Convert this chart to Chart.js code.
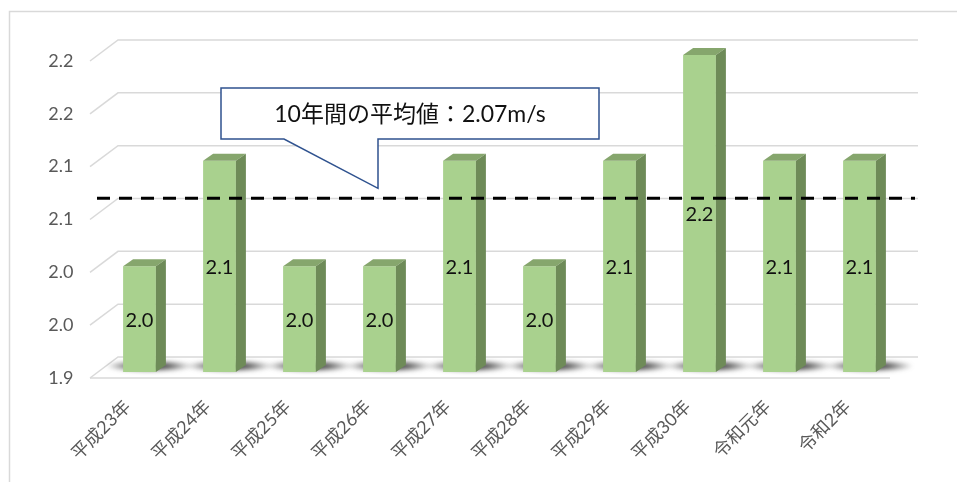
<!DOCTYPE html>
<html>
<head>
<meta charset="utf-8">
<script src="https://cdn.jsdelivr.net/npm/chart.js@4.4.1/dist/chart.umd.min.js"></script>
<style>
  html, body { margin: 0; padding: 0; background: #fff; }
  .chart-container { position: relative; width: 957px; height: 482px; }
</style>
</head>
<body>
<div class="chart-container"><canvas id="chart"></canvas></div>
<script>
const years = ['平成23年', '平成24年', '平成25年', '平成26年', '平成27年', '平成28年', '平成29年', '平成30年', '令和元年', '令和2年']
const windSpeed = [2.0, 2.1, 2.0, 2.0, 2.1, 2.0, 2.1, 2.2, 2.1, 2.1]
const yTickValues = [1.9, 1.95, 2.0, 2.05, 2.1, 2.15, 2.2]
const yTickLabels = ['1.9', '2.0', '2.0', '2.1', '2.1', '2.2', '2.2']
const average = windSpeed.reduce((a, b) => a + b, 0) / windSpeed.length

// fake 3D: offsets of the front / back walls and the bar depth, relative to the bar faces
const FRONT = { dx: -9.5, dy: 6 }
const BACK = { dx: 18.5, dy: -15 }
const DEPTH = { dx: 10, dy: -7 }

const LATIN = 'Lato, "Noto Sans CJK JP", sans-serif'

const frame = {
  id: 'frame',
  beforeDraw(chart) {
    const { ctx, width, height } = chart
    ctx.save()
    ctx.fillStyle = '#fff'
    ctx.fillRect(0, 0, width, height)
    ctx.strokeStyle = '#d9d9d9'
    ctx.lineWidth = 1.5
    ctx.strokeRect(9.5, 11.5, width + 20, height + 20)
    ctx.restore()
  },
}

const grid3d = {
  id: 'grid3d',
  beforeDatasetsDraw(chart) {
    const { ctx, chartArea: { left, right }, scales: { y } } = chart
    ctx.save()
    ctx.strokeStyle = '#d9d9d9'
    ctx.lineWidth = 1.5
    yTickValues.forEach((v) => {
      const yy = y.getPixelForValue(v)
      ctx.beginPath()
      ctx.moveTo(left + FRONT.dx, yy + FRONT.dy)
      ctx.lineTo(left + BACK.dx, yy + BACK.dy)
      ctx.lineTo(right + BACK.dx, yy + BACK.dy)
      ctx.stroke()
    })
    const floor = y.getPixelForValue(yTickValues[0])
    ctx.beginPath()
    ctx.moveTo(left + FRONT.dx, floor + FRONT.dy)
    ctx.lineTo(right + FRONT.dx, floor + FRONT.dy)
    ctx.stroke()

    // soft shadows on the floor
    ctx.filter = 'blur(2px)'
    chart.getDatasetMeta(0).data.forEach((bar) => {
      const g = ctx.createRadialGradient(0, 0, 0, 0, 0, 1)
      g.addColorStop(0, 'rgba(20,20,20,1)')
      g.addColorStop(0.5, 'rgba(40,40,40,0.7)')
      g.addColorStop(1, 'rgba(60,60,60,0)')
      ctx.save()
      ctx.translate(bar.x + 10, floor - 6)
      ctx.scale(44, 6)
      ctx.fillStyle = g
      ctx.beginPath()
      ctx.arc(0, 0, 1, 0, Math.PI * 2)
      ctx.fill()
      ctx.restore()
    })
    ctx.restore()
  },
}

const bars3d = {
  id: 'bars3d',
  afterDatasetsDraw(chart) {
    const { ctx, chartArea: { left, right }, scales: { y } } = chart
    const floor = y.getPixelForValue(yTickValues[0])
    ctx.save()
    chart.getDatasetMeta(0).data.forEach((bar) => {
      const x0 = bar.x - bar.width / 2
      const x1 = bar.x + bar.width / 2
      // top
      ctx.fillStyle = '#86a66d'
      ctx.beginPath()
      ctx.moveTo(x0, bar.y)
      ctx.lineTo(x0 + DEPTH.dx, bar.y + DEPTH.dy)
      ctx.lineTo(x1 + DEPTH.dx, bar.y + DEPTH.dy)
      ctx.lineTo(x1, bar.y)
      ctx.closePath()
      ctx.fill()
      // side
      ctx.fillStyle = '#6e8b58'
      ctx.beginPath()
      ctx.moveTo(x1, bar.y)
      ctx.lineTo(x1 + DEPTH.dx, bar.y + DEPTH.dy)
      ctx.lineTo(x1 + DEPTH.dx, floor + DEPTH.dy)
      ctx.lineTo(x1, floor)
      ctx.closePath()
      ctx.fill()
    })

    // average line
    const ya = y.getPixelForValue(average) + FRONT.dy
    ctx.strokeStyle = '#000'
    ctx.lineWidth = 3
    ctx.setLineDash([13, 9])
    ctx.beginPath()
    ctx.moveTo(left - 2.5, ya)
    ctx.lineTo(right + 15.5, ya)
    ctx.stroke()
    ctx.setLineDash([])

    // value labels
    ctx.fillStyle = '#111'
    ctx.font = '20px ' + LATIN
    ctx.textAlign = 'center'
    ctx.textBaseline = 'middle'
    chart.getDatasetMeta(0).data.forEach((bar, i) => {
      ctx.fillText(windSpeed[i].toFixed(1), bar.x, (bar.y + floor) / 2 + 1)
    })
    ctx.restore()
  },
}

const callout = {
  id: 'callout',
  afterDraw(chart) {
    const { ctx, scales: { x, y } } = chart
    const tipX = x.getPixelForValue(3) - 1.5
    const tipY = y.getPixelForValue(average) + FRONT.dy - 10
    const box = { l: 221, t: 88, r: 599, b: 139 }
    ctx.save()
    ctx.fillStyle = '#fff'
    ctx.strokeStyle = '#2f528f'
    ctx.lineWidth = 1.5
    ctx.beginPath()
    ctx.moveTo(box.l, box.t)
    ctx.lineTo(box.r, box.t)
    ctx.lineTo(box.r, box.b)
    ctx.lineTo(tipX, box.b)
    ctx.lineTo(tipX, tipY)
    ctx.lineTo(284, box.b)
    ctx.lineTo(box.l, box.b)
    ctx.closePath()
    ctx.fill()
    ctx.stroke()
    ctx.fillStyle = '#111'
    ctx.font = '23px ' + LATIN
    ctx.textAlign = 'center'
    ctx.textBaseline = 'middle'
    ctx.fillText('10年間の平均値：' + average.toFixed(2) + 'm/s', (box.l + box.r) / 2, (box.t + box.b) / 2 + 1)
    ctx.restore()
  },
}

const config = {
  type: 'bar',
  data: {
    labels: years,
    datasets: [
      {
        label: '平均風速',
        data: windSpeed,
        base: yTickValues[0],
        backgroundColor: '#a9d18e',
        borderWidth: 0,
        barPercentage: 0.41,
        categoryPercentage: 1,
      },
    ],
  },
  options: {
    responsive: true,
    maintainAspectRatio: false,
    animation: false,
    layout: { padding: { top: 55, right: 57.5, left: 0, bottom: 0 } },
    plugins: { legend: { display: false }, tooltip: { enabled: false } },
    scales: {
      x: {
        grid: { display: false, drawTicks: false },
        border: { display: false },
        ticks: {
          autoSkip: false,
          minRotation: 45,
          maxRotation: 45,
          padding: 24,
          labelOffset: -12,
          color: '#595959',
          font: { family: LATIN, size: 18 },
        },
        afterFit: (scale) => { scale.height = 110 },
      },
      y: {
        min: 1.9,
        max: 2.2,
        grid: { display: false, drawTicks: false },
        border: { display: false },
        afterBuildTicks: (scale) => { scale.ticks = yTickValues.map((v) => ({ value: v })) },
        ticks: {
          padding: 26,
          labelOffset: 6,
          color: '#595959',
          font: { family: LATIN, size: 18 },
          callback: (v, i) => yTickLabels[i],
        },
        afterFit: (scale) => { scale.width = 99.5 },
      },
    },
  },
  plugins: [frame, grid3d, bars3d, callout],
}

new Chart(document.getElementById('chart'), config)
</script>
</body>
</html>
